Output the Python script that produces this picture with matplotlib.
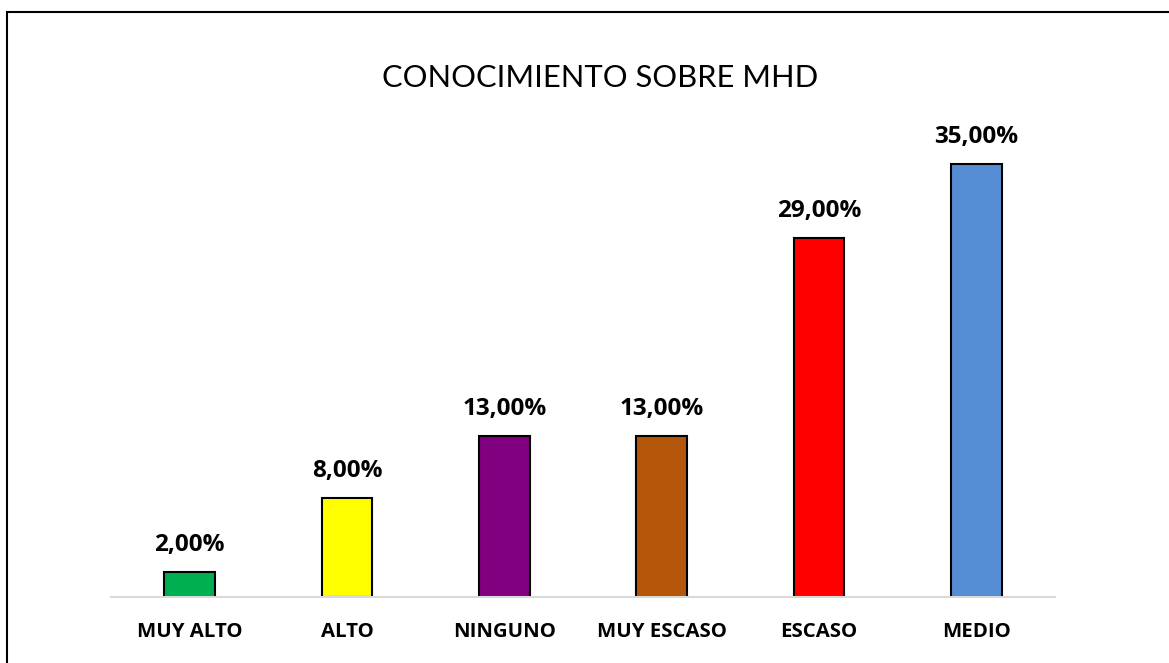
import numpy as np
import matplotlib.pyplot as plt
from matplotlib.patches import Rectangle

# Datos del grafico
categorias = ['MUY ALTO', 'ALTO', 'NINGUNO', 'MUY ESCASO', 'ESCASO', 'MEDIO']
porcentajes = [2.0, 8.0, 13.0, 13.0, 29.0, 35.0]
colores = ['#00B050', '#FFFF00', '#800080', '#B5570B', '#FF0000', '#558ED5']

plt.rcParams['font.family'] = ['Open Sans', 'DejaVu Sans']

fig = plt.figure(figsize=(11.69, 6.63), dpi=100)
ax = fig.add_axes([111 / 1169, 66 / 663, 944 / 1169, 495 / 663])

x = np.arange(len(categorias))
barras = ax.bar(x, porcentajes, width=0.32, color=colores, edgecolor='black',
                linewidth=1.5, zorder=2)

# Etiquetas de valor sobre cada barra
for xi, v in zip(x, porcentajes):
    etiqueta = f'{v:.2f}'.replace('.', ',') + '%'
    ax.annotate(etiqueta, (xi, v), xytext=(0, 11), textcoords='offset points',
                ha='center', va='bottom', fontsize=17.5, fontweight='bold')

ax.set_xlim(-0.5, len(categorias) - 0.5)
ax.set_ylim(0, 40)
ax.set_xticks(x)
ax.set_xticklabels(categorias, fontsize=14.7, fontweight='bold')
ax.tick_params(axis='x', length=0, pad=18)
ax.set_yticks([])

for lado in ['top', 'right', 'left']:
    ax.spines[lado].set_visible(False)
ax.spines['bottom'].set_color('#D9D9D9')
ax.spines['bottom'].set_linewidth(1.5)
ax.spines['bottom'].set_zorder(3)

fig.text(600 / 1169, 1 - 78 / 663, 'CONOCIMIENTO SOBRE MHD', ha='center',
         va='center', fontsize=22.2, family=['Lato', 'DejaVu Sans'])

# Marco exterior del grafico (lado derecho e inferior fuera de la imagen)
marco = Rectangle((7 / 1169, -0.1), 1.2, 1.1 - 12 / 663,
                  transform=fig.transFigure, fill=False, edgecolor='black',
                  linewidth=1.5, clip_on=False)
fig.patches.append(marco)

fig.savefig('out.png', dpi=100)
